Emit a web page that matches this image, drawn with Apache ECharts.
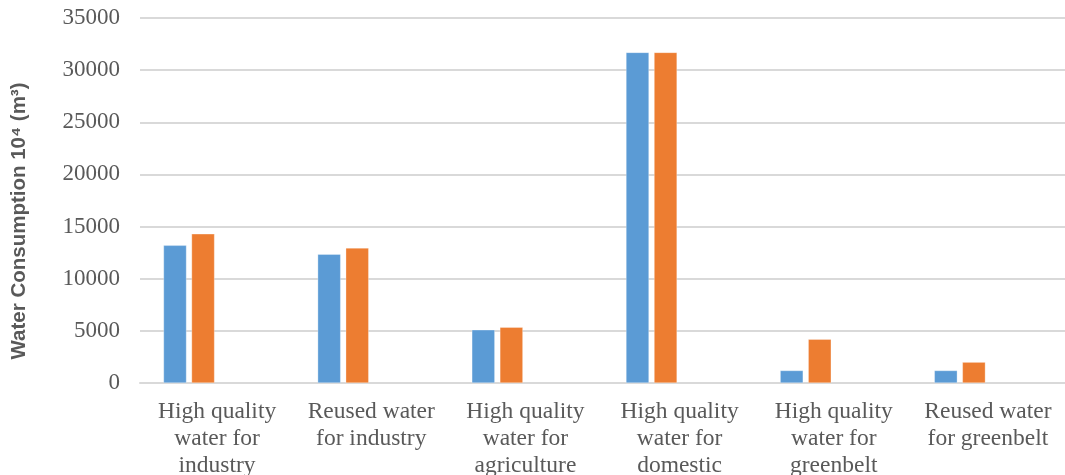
<!DOCTYPE html>
<html>
<head>
<meta charset="utf-8">
<script src="https://cdn.jsdelivr.net/npm/echarts@6/dist/echarts.min.js"></script>
<style>
  html, body { margin: 0; padding: 0; background: #ffffff; }
  #chart { width: 1065px; height: 475px; }
</style>
</head>
<body>
<div id="chart"></div>
<script>
// Water use categories (x axis)
const categories = [
  'High quality\nwater for\nindustry',
  'Reused water\nfor industry',
  'High quality\nwater for\nagriculture',
  'High quality\nwater for\ndomestic',
  'High quality\nwater for\ngreenbelt',
  'Reused water\nfor greenbelt'
];

// Consumption values, 10^4 m³
const seriesA = [13200, 12350, 5100, 31700, 1200, 1200];
const seriesB = [14300, 12950, 5350, 31700, 4200, 2000];
// Two further series slots with no data keep the bar grouping
const seriesC = [null, null, null, null, null, null];
const seriesD = [null, null, null, null, null, null];

const yTicks = { min: 0, max: 35000, interval: 5000 };
const yTitle = 'Water Consumption 10\u2074 (m\u00B3)';

const chart = echarts.init(document.getElementById('chart'), null, { renderer: 'canvas' });

const barStyle = (color) => ({ color: color, borderColor: 'rgba(255,255,255,0.6)', borderWidth: 0.5 });

chart.setOption({
  animation: false,
  backgroundColor: '#ffffff',
  grid: {
    left: 140, right: 0, top: 18, bottom: 92,
    containLabel: false,
    outerBoundsMode: 'none'
  },
  xAxis: {
    type: 'category',
    data: categories,
    axisLine: { show: true, lineStyle: { color: '#d9d9d9', width: 2 } },
    axisTick: { show: false },
    axisLabel: {
      interval: 0,
      margin: 15,
      color: '#595959',
      fontFamily: '"Liberation Serif", "Times New Roman", serif',
      fontSize: 23.5,
      lineHeight: 27
    }
  },
  yAxis: {
    type: 'value',
    min: yTicks.min,
    max: yTicks.max,
    interval: yTicks.interval,
    axisLine: { show: false },
    axisTick: { show: false },
    splitLine: { lineStyle: { color: '#d9d9d9', width: 2 } },
    axisLabel: {
      margin: 20,
      color: '#595959',
      fontFamily: '"Liberation Serif", "Times New Roman", serif',
      fontSize: 23,
      formatter: (v) => String(v)
    }
  },
  graphic: [{
    type: 'text',
    x: 19,
    y: 221,
    rotation: Math.PI / 2,
    style: {
      text: yTitle,
      fill: '#595959',
      font: 'bold 20.5px "Liberation Sans", Arial, sans-serif',
      align: 'center',
      verticalAlign: 'middle'
    }
  }],
  series: [
    { type: 'bar', data: seriesA, barWidth: 23, barGap: '22%', itemStyle: barStyle('#5b9bd5') },
    { type: 'bar', data: seriesB, barWidth: 23, barGap: '22%', itemStyle: barStyle('#ed7d31') },
    { type: 'bar', data: seriesC, barWidth: 23, barGap: '22%', itemStyle: barStyle('#a5a5a5') },
    { type: 'bar', data: seriesD, barWidth: 23, barGap: '22%', itemStyle: barStyle('#ffc000') }
  ]
});
</script>
</body>
</html>
